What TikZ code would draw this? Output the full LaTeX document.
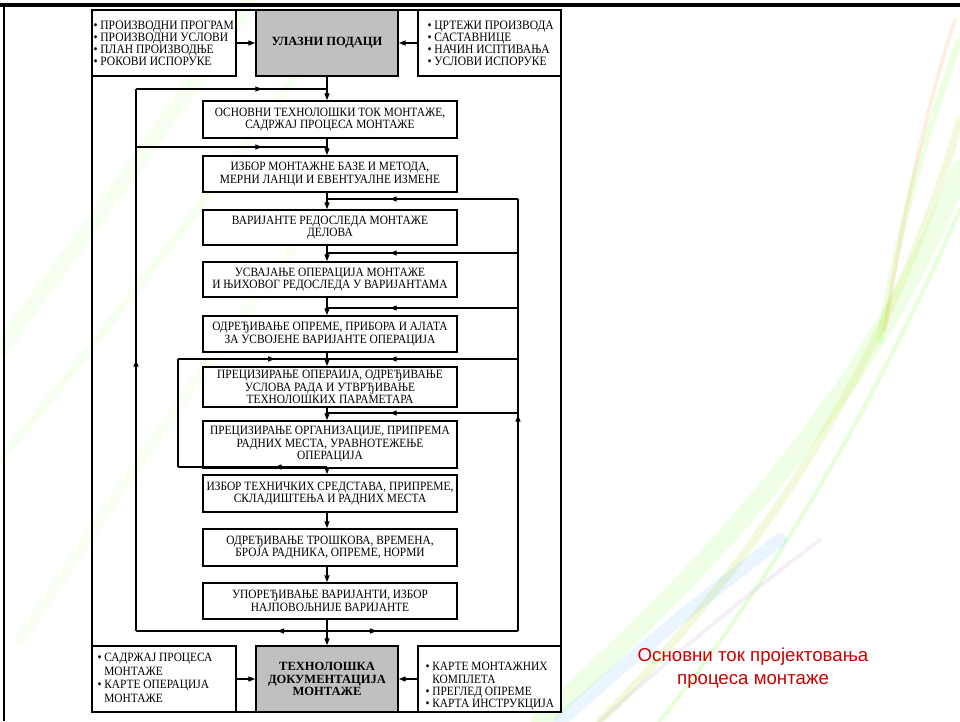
\documentclass[tikz,border=0pt]{standalone}
\usepackage{fontspec}
\setmainfont{Liberation Serif}
\newfontfamily\flowfont[FakeStretch=0.9]{Liberation Serif}
\newfontfamily\captionfont{Liberation Sans}
\usetikzlibrary{arrows.meta,decorations.markings}

\definecolor{boxgray}{RGB}{192,192,192}
\definecolor{titlered}{RGB}{204,0,0}

\tikzset{every picture/.style={line width=0.75pt}}
\tikzset{
  flowbox/.style={draw,line width=1.4pt,fill=white,minimum width=190.5pt,inner sep=0pt,align=center,font=\flowfont\fontsize{9.5}{9.4}\selectfont},
  listbox/.style={draw,line width=1.4pt,fill=white,minimum height=49.5pt,inner sep=0pt},
  graybox/.style={draw,line width=1.4pt,fill=boxgray,minimum width=106.5pt,minimum height=49.5pt,inner sep=0pt,align=center,font=\bfseries\fontsize{9.4}{9.3}\selectfont},
  listtext/.style={anchor=west,inner sep=0pt,align=left,font=\flowfont\fontsize{9.6}{9}\selectfont},
  link/.style={line width=0.8pt},
  endtip/.style={-{Triangle[length=5pt,width=3.8pt]}},
  arrowat/.style={postaction={decorate},decoration={markings,mark=at position #1 with {\arrow{Triangle[length=5pt,width=3.8pt]}}}},
  swoosh/.style={line cap=round,line width=#1}
}

\begin{document}
\begin{tikzpicture}[x=0.75pt,y=0.75pt,yscale=-1,xscale=1]
\useasboundingbox (0,0) rectangle (960,721);
\fill[white] (0,0) rectangle (960,721);

%Background swooshes
\draw[swoosh=12pt,green!50!yellow,opacity=0.06] (0,350) .. controls (80,240) and (170,120) .. (250,0);
\draw[swoosh=6pt,green!60!yellow,opacity=0.06] (0,460) .. controls (90,350) and (200,210) .. (300,70);
\draw[swoosh=8pt,green!40!yellow,opacity=0.05] (20,640) .. controls (120,490) and (220,340) .. (330,200);
\draw[swoosh=14pt,green!60!yellow,opacity=0.10] (540,721) .. controls (720,560) and (880,380) .. (960,170);
\draw[swoosh=6pt,yellow!70!green,opacity=0.15] (600,721) .. controls (780,540) and (900,330) .. (960,120);
\draw[swoosh=3pt,green!70!yellow,opacity=0.15] (660,721) .. controls (820,520) and (920,300) .. (960,210);
\draw[swoosh=10pt,blue!50!cyan,opacity=0.08] (560,721) .. controls (640,650) and (700,600) .. (780,540);
\draw[swoosh=3pt,violet!60,opacity=0.10] (600,721) .. controls (680,650) and (740,600) .. (820,540);
\draw[swoosh=5pt,green!60!yellow,opacity=0.12] (960,40) .. controls (930,120) and (900,220) .. (880,340);
\draw[swoosh=3pt,orange,opacity=0.12] (955,20) .. controls (925,110) and (900,230) .. (885,330);

%Slide edge
\draw[line width=2.5pt] (0,5) -- (960,5);
\draw[line width=1.5pt] (4,5) -- (4,721);

%Outer frame
\draw[line width=1.4pt] (92,10) rectangle (561,712);

%Input row
\node[listbox,minimum width=108pt] (ulazLevo) at (164,43) {};
\node[graybox] (ulaz) at (327,43) {УЛАЗНИ ПОДАЦИ};
\node[listbox,minimum width=107.25pt] (ulazDesno) at (489.5,43) {};
\node[listtext] (ulazLevoTekst) at (93,43) {• ПРОИЗВОДНИ ПРОГРАМ\\• ПРОИЗВОДНИ УСЛОВИ\\• ПЛАН ПРОИЗВОДЊЕ\\• РОКОВИ ИСПОРУКЕ};
\node[listtext] (ulazDesnoTekst) at (427,43) {• ЦРТЕЖИ ПРОИЗВОДА\\• САСТАВНИЦЕ\\• НАЧИН ИСПТИВАЊА\\• УСЛОВИ ИСПОРУКЕ};

%Flow boxes
\node[flowbox,minimum height=27.75pt] (osnovni) at (330,119.5) {ОСНОВНИ ТЕХНОЛОШКИ ТОК МОНТАЖЕ,\\САДРЖАЈ ПРОЦЕСА МОНТАЖЕ};
\node[flowbox,minimum height=27pt] (baza) at (330,174) {ИЗБОР МОНТАЖНЕ БАЗЕ И МЕТОДА,\\МЕРНИ ЛАНЦИ И ЕВЕНТУАЛНЕ ИЗМЕНЕ};
\node[flowbox,minimum height=26.25pt] (varijante) at (330,227.5) {ВАРИЈАНТЕ РЕДОСЛЕДА МОНТАЖЕ\\ДЕЛОВА};
\node[flowbox,minimum height=26.25pt] (usvajanje) at (330,279.5) {УСВАЈАЊЕ ОПЕРАЦИЈА МОНТАЖЕ\\И ЊИХОВОГ РЕДОСЛЕДА У ВАРИЈАНТАМА};
\node[flowbox,minimum height=27pt] (oprema) at (330,334) {ОДРЕЂИВАЊЕ ОПРЕМЕ, ПРИБОРА И АЛАТА\\ЗА УСВОЈЕНЕ ВАРИЈАНТЕ ОПЕРАЦИЈА};
\node[flowbox,minimum height=30pt] (parametri) at (330,387) {ПРЕЦИЗИРАЊЕ ОПЕРАИЈА, ОДРЕЂИВАЊЕ\\УСЛОВА РАДА И УТВРЂИВАЊЕ\\ТЕХНОЛОШКИХ ПАРАМЕТАРА};
\node[flowbox,minimum height=35.25pt] (organizacija) at (330,444.5) {ПРЕЦИЗИРАЊЕ ОРГАНИЗАЦИЈЕ, ПРИПРЕМА\\РАДНИХ МЕСТА, УРАВНОТЕЖЕЊЕ\\ОПЕРАЦИЈА};
\node[flowbox,minimum height=27.75pt] (sredstva) at (330,493.5) {ИЗБОР ТЕХНИЧКИХ СРЕДСТАВА, ПРИПРЕМЕ,\\СКЛАДИШТЕЊА И РАДНИХ МЕСТА};
\node[flowbox,minimum height=27.75pt] (troskovi) at (330,547.5) {ОДРЕЂИВАЊЕ ТРОШКОВА, ВРЕМЕНА,\\БРОЈА РАДНИКА, ОПРЕМЕ, НОРМИ};
\node[flowbox,minimum height=27pt] (izbor) at (330,601) {УПОРЕЂИВАЊЕ ВАРИЈАНТИ, ИЗБОР\\НАЈПОВОЉНИЈЕ ВАРИЈАНТЕ};

%Output row
\node[listbox,minimum width=108pt] (dokLevo) at (164,679) {};
\node[graybox] (dok) at (327,679) {ТЕХНОЛОШКА\\ДОКУМЕНТАЦИЈА\\МОНТАЖЕ};
\node[listbox,minimum width=107.25pt] (dokDesno) at (489.5,679) {};
\node[listtext,font=\flowfont\fontsize{9.5}{10.2}\selectfont] (dokLevoTekst) at (97,678) {• САДРЖАЈ ПРОЦЕСА\\\hphantom{• }МОНТАЖЕ\\• КАРТЕ ОПЕРАЦИЈА\\\hphantom{• }МОНТАЖЕ};
\node[listtext,font=\flowfont\fontsize{9.5}{9.2}\selectfont] (dokDesnoTekst) at (425,686.5) {• КАРТЕ МОНТАЖНИХ\\\hphantom{• }КОМПЛЕТА\\• ПРЕГЛЕД ОПРЕМЕ\\• КАРТА ИНСТРУКЦИЈА};

%Side inputs and outputs
\draw[link,endtip] (ulazLevo) -- (ulaz);
\draw[link,endtip] (ulazDesno) -- (ulaz);
\draw[link,endtip] (dokLevo) -- (dok);
\draw[link,endtip] (dokDesno) -- (dok);

%Main line
\draw[link,endtip] (ulaz.south) -- (ulaz.south |- osnovni.north);
\foreach \gore/\dole in {osnovni/baza,baza/varijante,varijante/usvajanje,usvajanje/oprema,oprema/parametri,parametri/organizacija,organizacija/sredstva,sredstva/troskovi,troskovi/izbor}
  \draw[link,endtip] (\gore.south -| ulaz.south) -- (\dole.north -| ulaz.south);
\draw[link,endtip] (izbor.south -| ulaz.south) -- (dok.north);

%Loop coordinates
\coordinate (levoDole) at (136,631);
\coordinate (levoGore) at (136,89);
\coordinate (levoSredina) at (136,147);
\coordinate (desnoDole) at (518,631);
\coordinate (desnoGore) at (518,199);
\coordinate (unutraGore) at (178,359);
\coordinate (unutraDole) at (178,467);

%Left outer loop
\draw[link,arrowat=0.5] (levoDole) -- (levoGore);
\draw[link,arrowat=0.66] (levoGore) -- (levoGore -| ulaz.south);
\draw[link,arrowat=0.66] (levoSredina) -- (levoSredina -| ulaz.south);

%Right outer loop
\draw[link,arrowat=0.5] (desnoDole) -- (desnoGore);
\foreach \y in {199,253,308,359,413}{
  \coordinate (desno\y) at (518,\y);
  \draw[link,arrowat=0.67] (desno\y) -- (desno\y -| ulaz.south);
}

%Inner left loop
\draw[link,arrowat=0.35] (unutraDole -| ulaz.south) -- (unutraDole);
\draw[link] (unutraDole) -- (unutraGore);
\draw[link,arrowat=0.65] (unutraGore) -- (unutraGore -| ulaz.south);

%Bottom split
\draw[link,arrowat=0.26] (levoDole -| ulaz.south) -- (levoDole);
\draw[link,arrowat=0.26] (desnoDole -| ulaz.south) -- (desnoDole);

% Text Node
\node[font=\captionfont\fontsize{14}{17.25}\selectfont,text=titlered,align=center] (naslov) at (753,668.5) {Основни ток пројектовања\\процеса монтаже};

\end{tikzpicture}
\end{document}
